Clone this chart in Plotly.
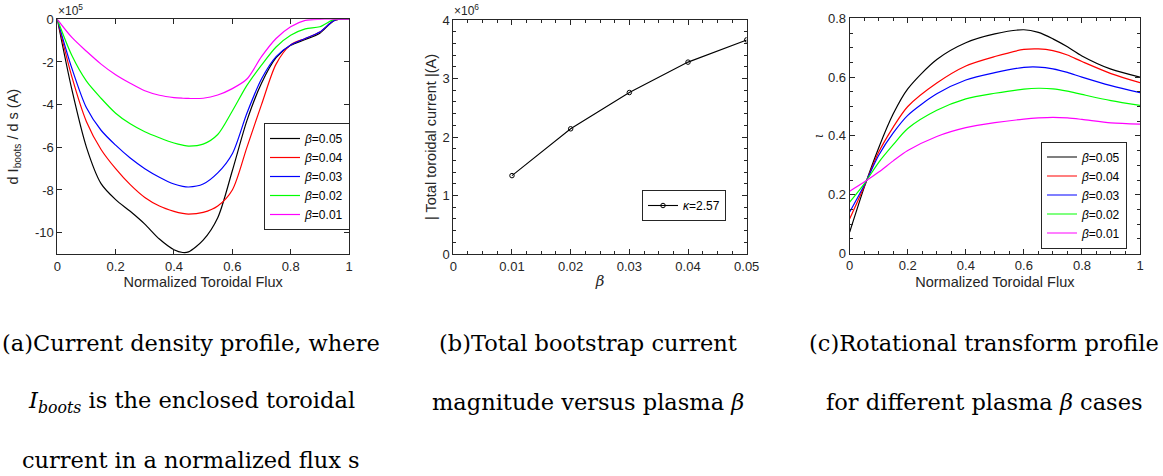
import plotly.graph_objects as go

# ---------------- data ----------------
# (a) d I_boots / d s, in units of 1e5 A
s_a = [0, 0.05, 0.1, 0.15, 0.2, 0.25, 0.3, 0.35, 0.4, 0.43, 0.45, 0.5, 0.55, 0.6,
       0.65, 0.7, 0.75, 0.8, 0.85, 0.9, 0.95, 1.0]
dI_b05 = [0, -3.3, -6.0, -7.7, -8.45, -9.0, -9.6, -10.3, -10.8, -10.93, -10.9, -10.35,
          -9.3, -7.1, -4.75, -3.0, -1.8, -1.22, -0.95, -0.65, -0.05, 0]
dI_b04 = [0, -2.7, -4.8, -6.1, -7.0, -7.75, -8.35, -8.75, -9.0, -9.1, -9.13, -9.05,
          -8.75, -8.0, -6.0, -4.0, -2.1, -1.2, -0.9, -0.6, -0.05, 0]
dI_b03 = [0, -2.3, -4.15, -5.2, -5.9, -6.5, -7.0, -7.4, -7.72, -7.83, -7.86, -7.72,
          -7.2, -6.3, -4.4, -2.8, -1.75, -1.2, -0.9, -0.6, -0.05, 0]
dI_b02 = [0, -1.7, -2.9, -3.7, -4.4, -4.9, -5.27, -5.55, -5.8, -5.9, -5.94, -5.85,
          -5.4, -4.3, -3.1, -2.15, -1.3, -0.75, -0.45, -0.35, 0, 0]
dI_b01 = [0, -0.85, -1.5, -2.1, -2.6, -3.0, -3.35, -3.56, -3.67, -3.7, -3.71, -3.7,
          -3.55, -3.25, -2.8, -1.75, -0.9, -0.35, -0.05, 0, 0, 0]

# (b) total toroidal current, in units of 1e6 A
beta = [0.01, 0.02, 0.03, 0.04, 0.05]
I_total = [1.34, 2.14, 2.76, 3.28, 3.66]

# (c) rotational transform
s_c = [0, 0.05, 0.1, 0.15, 0.2, 0.3, 0.4, 0.5, 0.6, 0.65, 0.7, 0.75, 0.8, 0.9, 1.0]
iota_b05 = [0.073, 0.225, 0.36, 0.475, 0.56, 0.66, 0.717, 0.747, 0.761, 0.752, 0.73, 0.703, 0.672, 0.627, 0.6]
iota_b04 = [0.118, 0.228, 0.345, 0.43, 0.5, 0.58, 0.638, 0.67, 0.694, 0.696, 0.69, 0.675, 0.653, 0.612, 0.581]
iota_b03 = [0.141, 0.232, 0.334, 0.41, 0.47, 0.543, 0.59, 0.615, 0.633, 0.634, 0.628, 0.616, 0.6, 0.571, 0.547]
iota_b02 = [0.175, 0.237, 0.31, 0.37, 0.425, 0.487, 0.526, 0.545, 0.559, 0.562, 0.56, 0.552, 0.541, 0.52, 0.504]
iota_b01 = [0.212, 0.243, 0.277, 0.315, 0.35, 0.398, 0.428, 0.445, 0.457, 0.461, 0.463, 0.461, 0.456, 0.444, 0.44]

series_names = ["0.05", "0.04", "0.03", "0.02", "0.01"]
series_colors = ["#000000", "#FF0000", "#0000FF", "#00FF00", "#FF00FF"]
dI_all = [dI_b05, dI_b04, dI_b03, dI_b02, dI_b01]
iota_all = [iota_b05, iota_b04, iota_b03, iota_b02, iota_b01]

x_ticks_a = [0, 0.2, 0.4, 0.6, 0.8, 1]
x_ticklabels_a = ["0", "0.2", "0.4", "0.6", "0.8", "1"]
y_ticks_a = [-10, -8, -6, -4, -2, 0]
y_ticklabels_a = ["-10", "-8", "-6", "-4", "-2", "0"]
x_ticks_b = [0, 0.01, 0.02, 0.03, 0.04, 0.05]
x_ticklabels_b = ["0", "0.01", "0.02", "0.03", "0.04", "0.05"]
y_ticks_b = [0, 1, 2, 3, 4]
y_ticks_c = [0, 0.2, 0.4, 0.6, 0.8]

# ---------------- figure ----------------
W, H = 1163, 476
def dx(a, b):
    return [a / W, b / W]
def dy(top, bot):
    return [1 - bot / H, 1 - top / H]

AX = "#262626"
SANS = "Liberation Sans, Arial, sans-serif"
TICKFONT = dict(family=SANS, size=13, color=AX)
LABELFONT = dict(family=SANS, size=14.5, color=AX)
LEGFONT = dict(family=SANS, size=12, color="black")

fig = go.Figure()

for name, col, ys in zip(series_names, series_colors, dI_all):
    fig.add_trace(go.Scatter(x=s_a, y=ys, mode="lines", line=dict(color=col, width=1.2, shape="spline", smoothing=0.8),
                             name="<i>β</i>=" + name, xaxis="x", yaxis="y", legend="legend"))

fig.add_trace(go.Scatter(x=beta, y=I_total, mode="lines+markers",
                         line=dict(color="black", width=1.1),
                         marker=dict(symbol="circle-open", size=4.5, color="black", line=dict(width=1)),
                         name="<i>κ</i>=2.57", xaxis="x2", yaxis="y2", legend="legend2"))

for name, col, ys in zip(series_names, series_colors, iota_all):
    fig.add_trace(go.Scatter(x=s_c, y=ys, mode="lines", line=dict(color=col, width=1.2, shape="spline", smoothing=0.8),
                             name="<i>β</i>=" + name, xaxis="x3", yaxis="y3", legend="legend3"))

def axis_common(**kw):
    d = dict(showline=True, linecolor=AX, linewidth=1, mirror="allticks", ticks="inside",
             ticklen=5, tickcolor=AX, tickwidth=1, showgrid=False, zeroline=False,
             tickfont=TICKFONT, automargin=False)
    d.update(kw)
    return d

fig.update_layout(
    width=W, height=H, margin=dict(l=0, r=0, t=0, b=0),
    paper_bgcolor="white", plot_bgcolor="white",
    showlegend=True,
    xaxis=axis_common(domain=dx(57.3, 349), range=[0, 1], tickvals=x_ticks_a, ticktext=x_ticklabels_a,
                      title=dict(text="Normalized Toroidal Flux", font=LABELFONT, standoff=4)),
    yaxis=axis_common(domain=dy(19.3, 254), range=[-11, 0], tickvals=y_ticks_a, ticktext=y_ticklabels_a,
                      title=dict(text="d I<sub>boots</sub> / d s (A)", font=LABELFONT, standoff=12)),
    xaxis2=axis_common(domain=dx(453.3, 746.7), range=[0, 0.05], tickvals=x_ticks_b, ticktext=x_ticklabels_b,
                       anchor="y2",
                       minor=dict(ticks="inside", ticklen=3, tickcolor=AX, dtick=0.0025),
                       title=dict(text="<i>β</i>", font=dict(family="DejaVu Serif, serif", size=15, color=AX), standoff=2)),
    yaxis2=axis_common(domain=dy(20, 254), range=[0, 4], tickvals=y_ticks_b, anchor="x2",
                       minor=dict(ticks="inside", ticklen=3, tickcolor=AX, dtick=0.2),
                       title=dict(text="| Total toroidal current |(A)", font=LABELFONT, standoff=2)),
    xaxis3=axis_common(domain=dx(849.7, 1140), range=[0, 1], tickvals=x_ticks_a, ticktext=x_ticklabels_a,
                       anchor="y3",
                       minor=dict(ticks="inside", ticklen=3, tickcolor=AX, dtick=0.05),
                       title=dict(text="Normalized Toroidal Flux", font=LABELFONT, standoff=4)),
    yaxis3=axis_common(domain=dy(18.3, 253.5), range=[0, 0.8], tickvals=y_ticks_c, anchor="x3",
                       minor=dict(ticks="inside", ticklen=3, tickcolor=AX, dtick=0.05),
                       title=dict(text="<i>ι</i>", font=dict(family="DejaVu Serif, serif", size=12, color=AX), standoff=1)),
    legend=dict(x=307 / W, y=1 - 176.5 / H, xanchor="center", yanchor="middle", bgcolor="white",
                bordercolor=AX, borderwidth=1, font=LEGFONT, itemwidth=30, tracegroupgap=0),
    legend2=dict(x=684 / W, y=1 - 205.5 / H, xanchor="center", yanchor="middle", bgcolor="white",
                 bordercolor=AX, borderwidth=1, font=LEGFONT, itemwidth=30),
    legend3=dict(x=1084 / W, y=1 - 195 / H, xanchor="center", yanchor="middle", bgcolor="white",
                 bordercolor=AX, borderwidth=1, font=LEGFONT, itemwidth=30, tracegroupgap=0),
)

# exponent labels
EXPFONT = dict(family=SANS, size=12, color=AX)
fig.add_annotation(x=56 / W, y=1 - 0 / H, xref="paper", yref="paper", xanchor="left", yanchor="top",
                   text="×10<sup>5</sup>", showarrow=False, font=EXPFONT)
fig.add_annotation(x=452 / W, y=1 - 0 / H, xref="paper", yref="paper", xanchor="left", yanchor="top",
                   text="×10<sup>6</sup>", showarrow=False, font=EXPFONT)

# captions
CAP = dict(family="DejaVu Serif, Liberation Serif, serif", size=22.5, color="black")
captions = [
    (191, 343, "(a)Current density profile, where"),
    (191, 402, "<i>I<sub>boots</sub></i> is the enclosed toroidal"),
    (191, 460, "current in a normalized flux s"),
    (588, 343, "(b)Total bootstrap current"),
    (588, 402, "magnitude versus plasma <i>β</i>"),
    (984, 343, "(c)Rotational transform profile"),
    (984, 402, "for different plasma <i>β</i> cases"),
]
for cx, cy, txt in captions:
    fig.add_annotation(x=cx / W, y=1 - cy / H, xref="paper", yref="paper", xanchor="center", yanchor="middle",
                       text=txt, showarrow=False, font=CAP)

fig.write_html("out.html", config={"displayModeBar": False},
               post_script="document.body.style.margin='0px';document.body.style.overflow='hidden';")
